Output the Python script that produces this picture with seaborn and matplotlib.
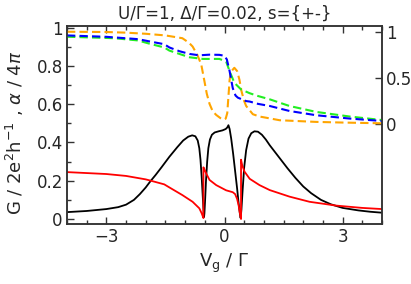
import matplotlib
matplotlib.use("Agg")
import matplotlib.pyplot as plt
import seaborn as sns
import pandas as pd
from matplotlib.ticker import MultipleLocator, FixedLocator, FuncFormatter

# conductance G (left axis)
g_x = [-4.0, -3.5, -3.0, -2.7, -2.5, -2.3, -2.15, -2.0, -1.89, -1.75, -1.6, -1.4, -1.2, -1.05,
       -0.92, -0.82, -0.74, -0.68, -0.64, -0.61, -0.58, -0.55, -0.53, -0.52, -0.51, -0.49,
       -0.47, -0.44, -0.41, -0.37, -0.32, -0.25, -0.15, -0.05, 0.03, 0.07, 0.1, 0.13, 0.17,
       0.22, 0.27, 0.32, 0.36, 0.39, 0.41, 0.43, 0.46, 0.5, 0.55, 0.61, 0.68, 0.76, 0.85,
       0.95, 1.05, 1.15, 1.3, 1.45, 1.6, 1.8, 2.0, 2.2, 2.45, 2.7, 3.0, 3.4, 3.7, 4.0]
g_y = [0.036, 0.042, 0.052, 0.062, 0.075, 0.1, 0.13, 0.165, 0.195, 0.23, 0.27, 0.325, 0.375, 0.41,
       0.43, 0.437, 0.432, 0.41, 0.37, 0.31, 0.22, 0.11, 0.04, 0.01, 0.03, 0.11,
       0.2, 0.3, 0.37, 0.415, 0.44, 0.452, 0.458, 0.463, 0.47, 0.478, 0.49, 0.47, 0.42,
       0.34, 0.25, 0.16, 0.08, 0.03, 0.005, 0.05, 0.15, 0.27, 0.36, 0.42, 0.448, 0.458, 0.456,
       0.44, 0.415, 0.385, 0.345, 0.305, 0.265, 0.215, 0.17, 0.135, 0.1, 0.077, 0.058, 0.045, 0.038, 0.033]

# red curve (left axis)
r_x = [-4.0, -3.5, -3.0, -2.5, -2.0, -1.87, -1.53, -1.4, -1.07, -0.81, -0.64, -0.58, -0.535, -0.535,
       -0.5, -0.47, -0.38, -0.21, 0.04, 0.21, 0.27, 0.32, 0.36, 0.39, 0.42, 0.42,
       0.45, 0.51, 0.64, 0.89, 1.15, 1.65, 2.16, 2.84, 3.5, 4.0]
r_y = [0.245, 0.24, 0.235, 0.225, 0.207, 0.2, 0.181, 0.165, 0.125, 0.09, 0.056, 0.03, 0.005, 0.27,
       0.255, 0.24, 0.204, 0.177, 0.15, 0.14, 0.13, 0.105, 0.07, 0.03, 0.0, 0.31,
       0.28, 0.247, 0.21, 0.177, 0.151, 0.117, 0.09, 0.07, 0.058, 0.052]

# dashed curves (right axis)
o_x = [-4.0, -3.0, -2.5, -2.0, -1.5, -1.07, -0.9, -0.81, -0.69, -0.59, -0.51, -0.45, -0.38, -0.3,
       -0.21, -0.1, -0.03, 0.03, 0.07, 0.1, 0.13, 0.17, 0.25, 0.32, 0.38, 0.43, 0.5, 0.55,
       0.72, 0.89, 1.06, 1.4, 2.33, 3.0, 4.0]
o_y = [1.0, 0.997, 0.99, 0.978, 0.96, 0.93, 0.88, 0.84, 0.75, 0.645, 0.466, 0.33, 0.22, 0.14,
       0.1, 0.065, 0.05, 0.06, 0.12, 0.3, 0.48, 0.57, 0.61, 0.575, 0.48, 0.36, 0.25, 0.197,
       0.108, 0.083, 0.07, 0.043, 0.025, 0.018, 0.01]

b_x = [-4.0, -3.0, -2.2, -1.9, -1.53, -1.4, -1.15, -0.89, -0.64, -0.38, -0.13, 0.0, 0.06, 0.13,
       0.21, 0.28, 0.34, 0.55, 0.64, 0.85, 1.15, 1.65, 2.33, 3.18, 4.0]
b_y = [0.96, 0.945, 0.92, 0.895, 0.865, 0.83, 0.79, 0.76, 0.745, 0.752, 0.75, 0.74, 0.7, 0.573,
       0.39, 0.31, 0.287, 0.25, 0.245, 0.22, 0.197, 0.143, 0.097, 0.061, 0.035]

gr_x = [-4.0, -2.8, -2.2, -1.9, -1.53, -1.4, -0.89, -0.55, -0.13, 0.04, 0.13, 0.25, 0.42, 0.64,
        0.85, 1.15, 1.65, 2.33, 3.18, 4.0]
gr_y = [0.946, 0.93, 0.906, 0.87, 0.83, 0.796, 0.724, 0.706, 0.706, 0.68, 0.573, 0.448, 0.376, 0.335,
        0.305, 0.269, 0.197, 0.133, 0.083, 0.045]

sns.set_style("ticks")
plt.rcParams["font.family"] = ["DejaVu Sans"]
plt.rcParams["mathtext.fontset"] = "dejavusans"

fig = plt.figure(figsize=(4.11, 2.84), dpi=100)
ax = fig.add_axes([67 / 411, 1 - 224 / 284, 315 / 411, 198 / 284])
ax2 = ax.twinx()

for xs, ys, col in [(o_x, o_y, "#FFA500"), (gr_x, gr_y, "#22EE22"), (b_x, b_y, "#0000FF")]:
    df = pd.DataFrame({"x": xs, "y": ys})
    sns.lineplot(data=df, x="x", y="y", ax=ax2, color=col, lw=1.5, estimator=None, sort=False,
                 linestyle=(0, (4, 2)))

for xs, ys, col in [(g_x, g_y, "black"), (r_x, r_y, "#FF0000")]:
    df = pd.DataFrame({"x": xs, "y": ys})
    sns.lineplot(data=df, x="x", y="y", ax=ax, color=col, lw=1.3, estimator=None, sort=False)

ax.set_xlim(-4, 4)
ax.set_ylim(-0.026, 1.008)
ax2.set_ylim(-1.079, 1.062)

fmt = FuncFormatter(lambda v, p: f"{v:g}")
ax.xaxis.set_major_locator(FixedLocator([-3, 0, 3]))
ax.xaxis.set_minor_locator(MultipleLocator(0.5))
ax.yaxis.set_major_locator(MultipleLocator(0.2))
ax.yaxis.set_minor_locator(MultipleLocator(0.1))
ax.yaxis.set_major_formatter(fmt)
ax2.yaxis.set_major_locator(FixedLocator([0, 0.5, 1]))
ax2.yaxis.set_major_formatter(fmt)

ax.tick_params(which="both", direction="in", top=True, right=False, labelsize=12, width=1, color="#333333")
ax.tick_params(which="major", length=5, pad=3)
ax.tick_params(which="minor", length=3)
ax2.tick_params(which="both", direction="in", labelsize=12, length=5, width=1, pad=3, color="#333333")

for a in (ax, ax2):
    for s in a.spines.values():
        s.set_linewidth(1.1)
        s.set_color("#333333")

ax.set_xlabel(r"V$_\mathrm{g}$ / $\Gamma$", fontsize=13)
ax2.set_ylabel("")
ax.set_ylabel(r"G / 2e$^2$h$^{-1}$ , $\alpha$ / 4$\pi$", fontsize=13)
ax.yaxis.set_label_coords(-0.13, 0.46)
ax.set_title("U/Γ=1, Δ/Γ=0.02, s={+-}", fontsize=12, pad=5)

fig.savefig("out.png", dpi=100)
